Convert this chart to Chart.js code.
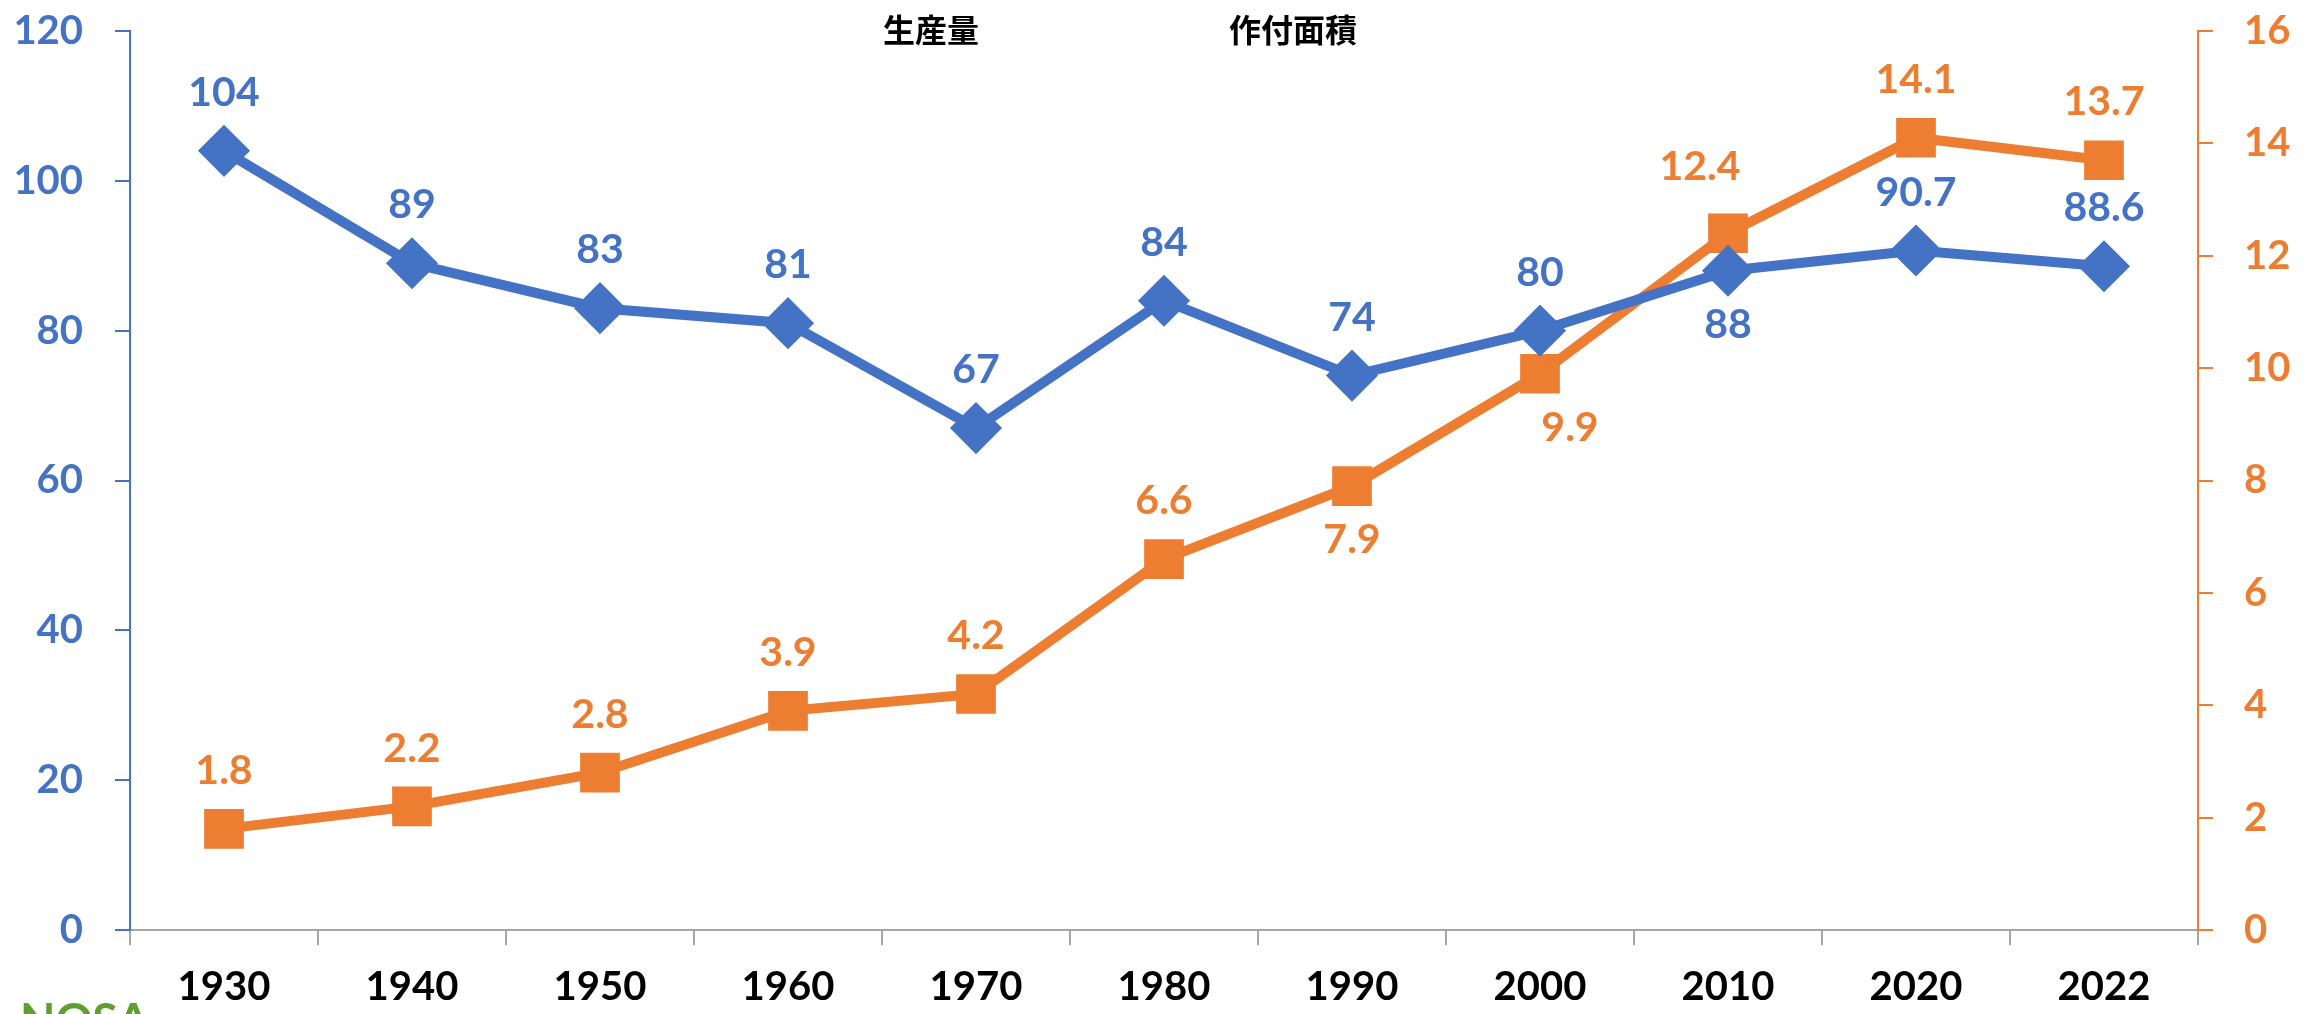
<!DOCTYPE html>
<html>
<head>
<meta charset="utf-8">
<script src="https://cdn.jsdelivr.net/npm/chart.js@4"></script>
<style>
  html, body { margin: 0; padding: 0; background: #fff; }
  #wrap { width: 2313px; height: 1014px; }
</style>
</head>
<body>
<div id="wrap"><canvas id="canvas"></canvas></div>
<script>
"use strict";
const years = ['1930', '1940', '1950', '1960', '1970', '1980', '1990', '2000', '2010', '2020', '2022'];
const production = [104, 89, 83, 81, 67, 84, 74, 80, 88, 90.7, 88.6];
const area = [1.8, 2.2, 2.8, 3.9, 4.2, 6.6, 7.9, 9.9, 12.4, 14.1, 13.7];
const leftTicks = [0, 20, 40, 60, 80, 100, 120];
const rightTicks = [0, 2, 4, 6, 8, 10, 12, 14, 16];

const BLUE = '#4472C4';
const ORANGE = '#ED7D31';
const FONT = 'Lato';

// values printed next to each point
const pointLabels = {
  id: 'pointLabels',
  afterDatasetsDraw(chart) {
    const ctx = chart.ctx;
    chart.data.datasets.forEach(function(ds, di) {
      const meta = chart.getDatasetMeta(di);
      ctx.save();
      ctx.font = 'bold 41px ' + FONT;
      ctx.fillStyle = ds.borderColor;
      ctx.textAlign = 'center';
      ctx.textBaseline = 'middle';
      meta.data.forEach(function(pt, i) {
        const below = ds.labelBelow.indexOf(i) >= 0;
        const sh = ds.labelShift[i] || [0, 0];
        ctx.fillText(String(ds.data[i]), pt.x + sh[0], pt.y + sh[1] + (below ? 54 : -58));
      });
      ctx.restore();
    });
  },
  afterLayout(chart) {
    // legend takes no room; it is drawn over the top of the plot
    chart.legend.left = 633;
    chart.legend.right = 2313;
    chart.legend.top = 0;
    chart.legend.bottom = 70;
  },
  afterDraw(chart) {
    const ctx = chart.ctx;
    ctx.save();
    ctx.font = 'bold 46px ' + FONT;
    ctx.fillStyle = '#5f9e2f';
    ctx.textBaseline = 'top';
    ctx.fillText('NOSA', 20, 998);
    ctx.restore();
  }
};

new Chart(document.getElementById('canvas'), {
  type: 'line',
  data: {
    labels: years,
    datasets: [{
      label: '生産量',
      data: production,
      yAxisID: 'y',
      borderColor: BLUE,
      backgroundColor: BLUE,
      borderWidth: 10,
      tension: 0,
      pointStyle: 'rectRot',
      pointRadius: 19,
      pointHoverRadius: 19,
      labelBelow: [8],
      labelShift: {}
    }, {
      label: '作付面積',
      data: area,
      yAxisID: 'y1',
      borderColor: ORANGE,
      backgroundColor: ORANGE,
      borderWidth: 10,
      tension: 0,
      pointStyle: 'rect',
      pointRadius: 21,
      pointHoverRadius: 21,
      labelBelow: [6, 7],
      labelShift: {7: [30, 0], 8: [-28, -8]}
    }]
  },
  options: {
    responsive: true,
    maintainAspectRatio: false,
    animation: false,
    layout: { padding: { top: 23, left: 0, right: 0, bottom: 0 } },
    plugins: {
      tooltip: { enabled: false },
      legend: {
        position: 'top',
        align: 'start',
        maxHeight: 1,
        labels: {
          boxWidth: 220,
          padding: 14,
          color: '#000',
          font: { family: 'Noto Sans CJK JP', size: 32, weight: 'bold' },
          generateLabels: function(chart) {
            return Chart.defaults.plugins.legend.labels.generateLabels(chart).map(function(l) {
              l.fillStyle = 'rgba(0,0,0,0)';
              l.strokeStyle = 'rgba(0,0,0,0)';
              l.lineWidth = 0;
              return l;
            });
          }
        }
      }
    },
    scales: {
      x: {
        offset: true,
        grid: {
          offset: true,
          drawOnChartArea: false,
          tickLength: 15,
          color: '#a6a6a6',
          lineWidth: 2
        },
        border: { color: '#a6a6a6', width: 2 },
        ticks: {
          color: '#000',
          padding: 18,
          font: { family: FONT, size: 40, weight: 'bold' }
        },
        afterFit: function(s) { s.height = 84; }
      },
      y: {
        position: 'left',
        min: 0,
        max: 120,
        afterBuildTicks: function(s) { s.ticks = leftTicks.map(function(v) { return {value: v}; }); },
        grid: { drawOnChartArea: false, tickLength: 15, color: BLUE, lineWidth: 2 },
        border: { color: BLUE, width: 2 },
        ticks: {
          color: BLUE,
          padding: 32,
          font: { family: FONT, size: 40, weight: 'bold', lineHeight: 1 }
        },
        afterFit: function(s) { s.width = 130; s.paddingTop = 0; s.paddingBottom = 0; }
      },
      y1: {
        position: 'right',
        min: 0,
        max: 16,
        afterBuildTicks: function(s) { s.ticks = rightTicks.map(function(v) { return {value: v}; }); },
        grid: { drawOnChartArea: false, tickLength: 15, color: ORANGE, lineWidth: 2 },
        border: { color: ORANGE, width: 2 },
        ticks: {
          color: ORANGE,
          padding: 31,
          font: { family: FONT, size: 40, weight: 'bold', lineHeight: 1 }
        },
        afterFit: function(s) { s.width = 115; s.paddingTop = 0; s.paddingBottom = 0; }
      }
    }
  },
  plugins: [pointLabels]
});
</script>
</body>
</html>
